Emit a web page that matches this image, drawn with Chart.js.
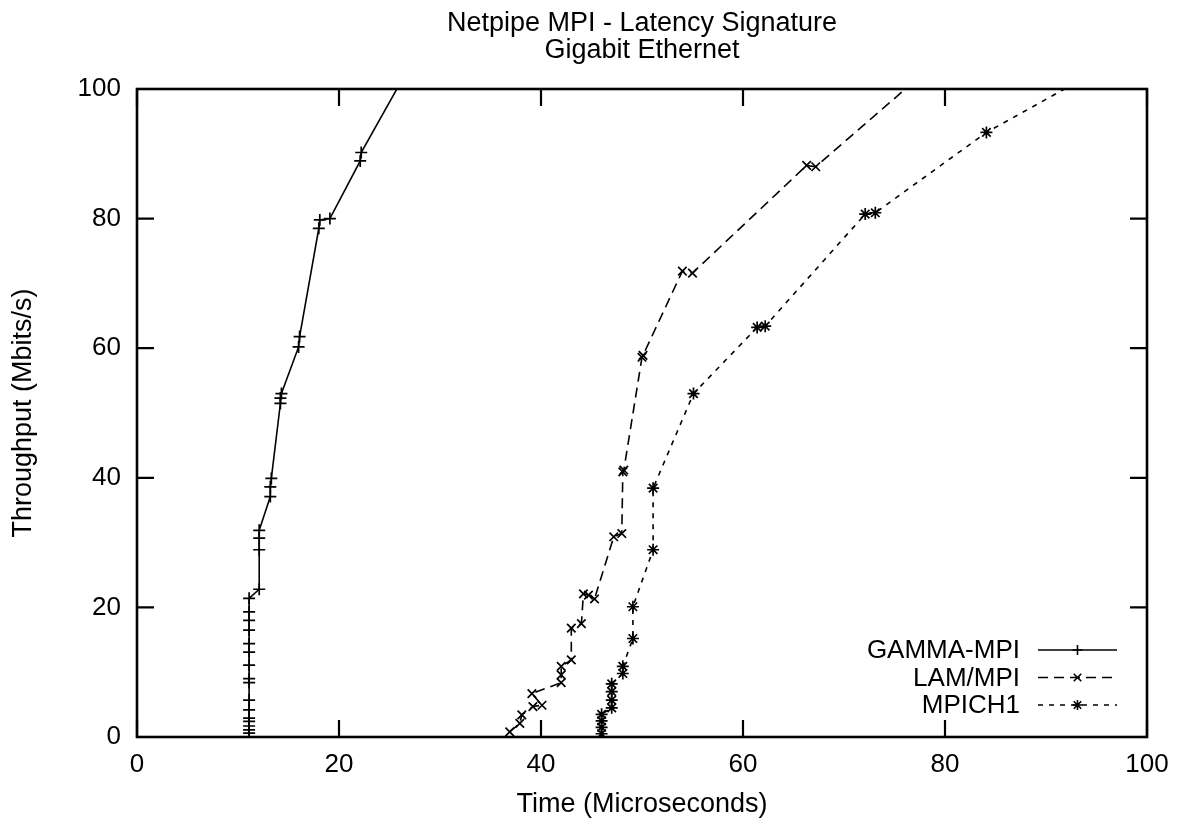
<!DOCTYPE html>
<html>
<head>
<meta charset="utf-8">
<script src="https://cdn.jsdelivr.net/npm/chart.js@4.4.0/dist/chart.umd.min.js"></script>
<style>
    html, body { margin: 0; padding: 0; background: #fff; }
    canvas { display: block; }
</style>
</head>
<body>
<canvas id="chart" width="1186" height="820"></canvas>
<script>
const titleLines = ["Netpipe MPI - Latency Signature", "Gigabit Ethernet"];
const xTitle = "Time (Microseconds)";
const yTitle = "Throughput (Mbits/s)";
const xTicks = [0, 20, 40, 60, 80, 100];
const yTicks = [0, 20, 40, 60, 80, 100];

const seriesNames = ["GAMMA-MPI", "LAM/MPI", "MPICH1"];

// GAMMA-MPI
const gammaX = [11.1, 11.1, 11.1, 11.1, 11.1, 11.1, 11.1, 11.1, 11.1, 11.1, 11.1, 11.1, 11.1, 11.1, 11.1, 11.1,
    12.1, 12.1, 12.1, 12.1, 13.2, 13.2, 13.3, 14.2, 14.2, 14.3, 16.0, 16.1, 18.0, 18.1, 19.1, 22.1, 22.2, 28.0];
const gammaY = [0.6, 1.1, 1.7, 2.4, 2.9, 4.2, 5.7, 8.4, 9.0, 11.1, 13.1, 14.4, 16.5, 18.0, 19.3, 21.4,
    22.8, 28.9, 30.7, 31.9, 37.1, 38.6, 39.9, 51.5, 52.3, 53.0, 60.2, 61.8, 78.5, 79.8, 80.0, 88.9, 90.2, 106.3];

// LAM/MPI
const lamX = [36.9, 37.9, 38.1, 39.2, 40.1, 39.1, 42.0, 42.0, 42.0, 43.0, 43.0, 44.0, 44.2, 44.7, 45.3,
    47.2, 48.0, 48.1, 48.2, 50.0, 50.1, 54.0, 55.0, 66.3, 67.2, 80.0];
const lamY = [0.8, 2.1, 3.4, 4.7, 4.9, 6.7, 8.4, 9.6, 10.9, 11.9, 16.8, 17.5, 22.1, 21.9, 21.3,
    30.9, 31.4, 40.9, 41.2, 58.6, 58.9, 71.9, 71.6, 88.2, 88.0, 105.3];

// MPICH1
const mpichX = [46.0, 46.0, 46.0, 46.0, 47.0, 47.0, 47.0, 47.0, 48.1, 48.1, 49.1, 49.1, 51.1, 51.1,
    55.1, 61.4, 62.2, 72.1, 73.1, 84.1, 96.0];
const mpichY = [0.5, 1.5, 2.5, 3.5, 4.5, 5.7, 7.0, 8.2, 9.8, 10.9, 15.2, 20.1, 28.9, 38.4,
    53.0, 63.2, 63.4, 80.7, 80.9, 93.3, 103.6];

const FONT = "'Liberation Sans', Arial, Helvetica, sans-serif";

const toPoints = (xs, ys) => xs.map((x, i) => ({x: x, y: ys[i]}));

function drawMarker(ctx, style, x, y, r) {
    ctx.beginPath();
    if (style === 'cross' || style === 'star') {
        ctx.moveTo(x - r, y); ctx.lineTo(x + r, y);
        ctx.moveTo(x, y - r); ctx.lineTo(x, y + r);
    }
    if (style === 'crossRot' || style === 'star') {
        const d = r * 0.75;
        ctx.moveTo(x - d, y - d); ctx.lineTo(x + d, y + d);
        ctx.moveTo(x - d, y + d); ctx.lineTo(x + d, y - d);
    }
    ctx.stroke();
}

// title centred over the plot box, not over the whole canvas
const titlePlugin = {
    id: 'plotTitle',
    afterDraw(chart) {
        const {ctx, chartArea: a} = chart;
        ctx.save();
        ctx.font = "27px " + FONT;
        ctx.fillStyle = '#000';
        ctx.textAlign = 'center';
        ctx.textBaseline = 'middle';
        const cx = (a.left + a.right) / 2;
        titleLines.forEach((t, i) => ctx.fillText(t, cx, a.top - 65 + i * 27));
        ctx.restore();
    }
};

// gnuplot style frame with inward ticks on all four sides
const framePlugin = {
    id: 'frame',
    afterDatasetsDraw(chart) {
        const {ctx, chartArea: a, scales} = chart;
        ctx.save();
        ctx.strokeStyle = '#000';
        ctx.lineWidth = 2.2;
        const len = 17;
        ctx.beginPath();
        xTicks.forEach(v => {
            const px = scales.x.getPixelForValue(v);
            ctx.moveTo(px, a.bottom); ctx.lineTo(px, a.bottom - len);
            ctx.moveTo(px, a.top); ctx.lineTo(px, a.top + len);
        });
        yTicks.forEach(v => {
            const py = scales.y.getPixelForValue(v);
            ctx.moveTo(a.left, py); ctx.lineTo(a.left + len, py);
            ctx.moveTo(a.right, py); ctx.lineTo(a.right - len, py);
        });
        ctx.stroke();
        ctx.lineWidth = 2.6;
        ctx.strokeRect(a.left, a.top, a.right - a.left, a.bottom - a.top);
        ctx.restore();
    }
};

// key inside the plot, bottom right, text right aligned before the sample
const keyPlugin = {
    id: 'key',
    afterDatasetsDraw(chart) {
        const {ctx, chartArea: a} = chart;
        const lineEnd = a.right - 30;
        const lineStart = lineEnd - 79;
        const textRight = lineStart - 18;
        const rowGap = 27.5;
        const firstRow = a.bottom - 87;
        ctx.save();
        ctx.font = "26px " + FONT;
        ctx.textAlign = 'right';
        ctx.textBaseline = 'middle';
        ctx.fillStyle = '#000';
        chart.data.datasets.forEach((ds, i) => {
            const y = firstRow + i * rowGap;
            ctx.fillText(ds.label, textRight, y + 1);
            ctx.strokeStyle = '#000';
            ctx.lineWidth = 1.6;
            ctx.setLineDash(ds.borderDash || []);
            ctx.beginPath();
            ctx.moveTo(lineStart, y);
            ctx.lineTo(lineEnd, y);
            ctx.stroke();
            ctx.setLineDash([]);
            drawMarker(ctx, ds.pointStyle, (lineStart + lineEnd) / 2, y, 5);
        });
        ctx.restore();
    }
};

const seriesStyle = (label, data, dash, style) => ({
    label: label,
    data: data,
    borderColor: '#000',
    backgroundColor: '#000',
    borderWidth: 1.6,
    borderDash: dash,
    pointStyle: style,
    pointRadius: 6,
    pointBorderWidth: 1.7,
    pointBorderColor: '#000',
    fill: false,
    tension: 0
});

new Chart(document.getElementById('chart').getContext('2d'), {
    type: 'line',
    data: {
        datasets: [
            seriesStyle(seriesNames[0], toPoints(gammaX, gammaY), [], 'cross'),
            seriesStyle(seriesNames[1], toPoints(lamX, lamY), [10, 6], 'crossRot'),
            seriesStyle(seriesNames[2], toPoints(mpichX, mpichY), [5, 6], 'star')
        ]
    },
    options: {
        responsive: false,
        animation: false,
        devicePixelRatio: 1,
        layout: {padding: {left: 0, right: 39, top: 89, bottom: 0}},
        plugins: {
            legend: {display: false},
            tooltip: {enabled: false},
            title: {display: false}
        },
        scales: {
            x: {
                type: 'linear',
                min: 0,
                max: 100,
                afterFit: (s) => { s.height = 83; },
                afterBuildTicks: (s) => { s.ticks = xTicks.map(v => ({value: v})); },
                grid: {display: false, drawTicks: false},
                border: {display: false},
                ticks: {color: '#000', padding: 15, font: {family: FONT, size: 26, lineHeight: 1.0}, maxRotation: 0},
                title: {
                    display: true,
                    text: xTitle,
                    color: '#000',
                    font: {family: FONT, size: 27, lineHeight: 1.0},
                    padding: {top: 0, bottom: 2}
                }
            },
            y: {
                type: 'linear',
                min: 0,
                max: 100,
                afterFit: (s) => { s.width = 137; },
                afterBuildTicks: (s) => { s.ticks = yTicks.map(v => ({value: v})); },
                grid: {display: false, drawTicks: false},
                border: {display: false},
                ticks: {color: '#000', padding: 16, font: {family: FONT, size: 26, lineHeight: 1.0}},
                title: {
                    display: true,
                    text: yTitle,
                    color: '#000',
                    font: {family: FONT, size: 27, lineHeight: 1.0},
                    padding: {top: 10, bottom: 0}
                }
            }
        }
    },
    plugins: [framePlugin, keyPlugin, titlePlugin]
});
</script>
</body>
</html>
